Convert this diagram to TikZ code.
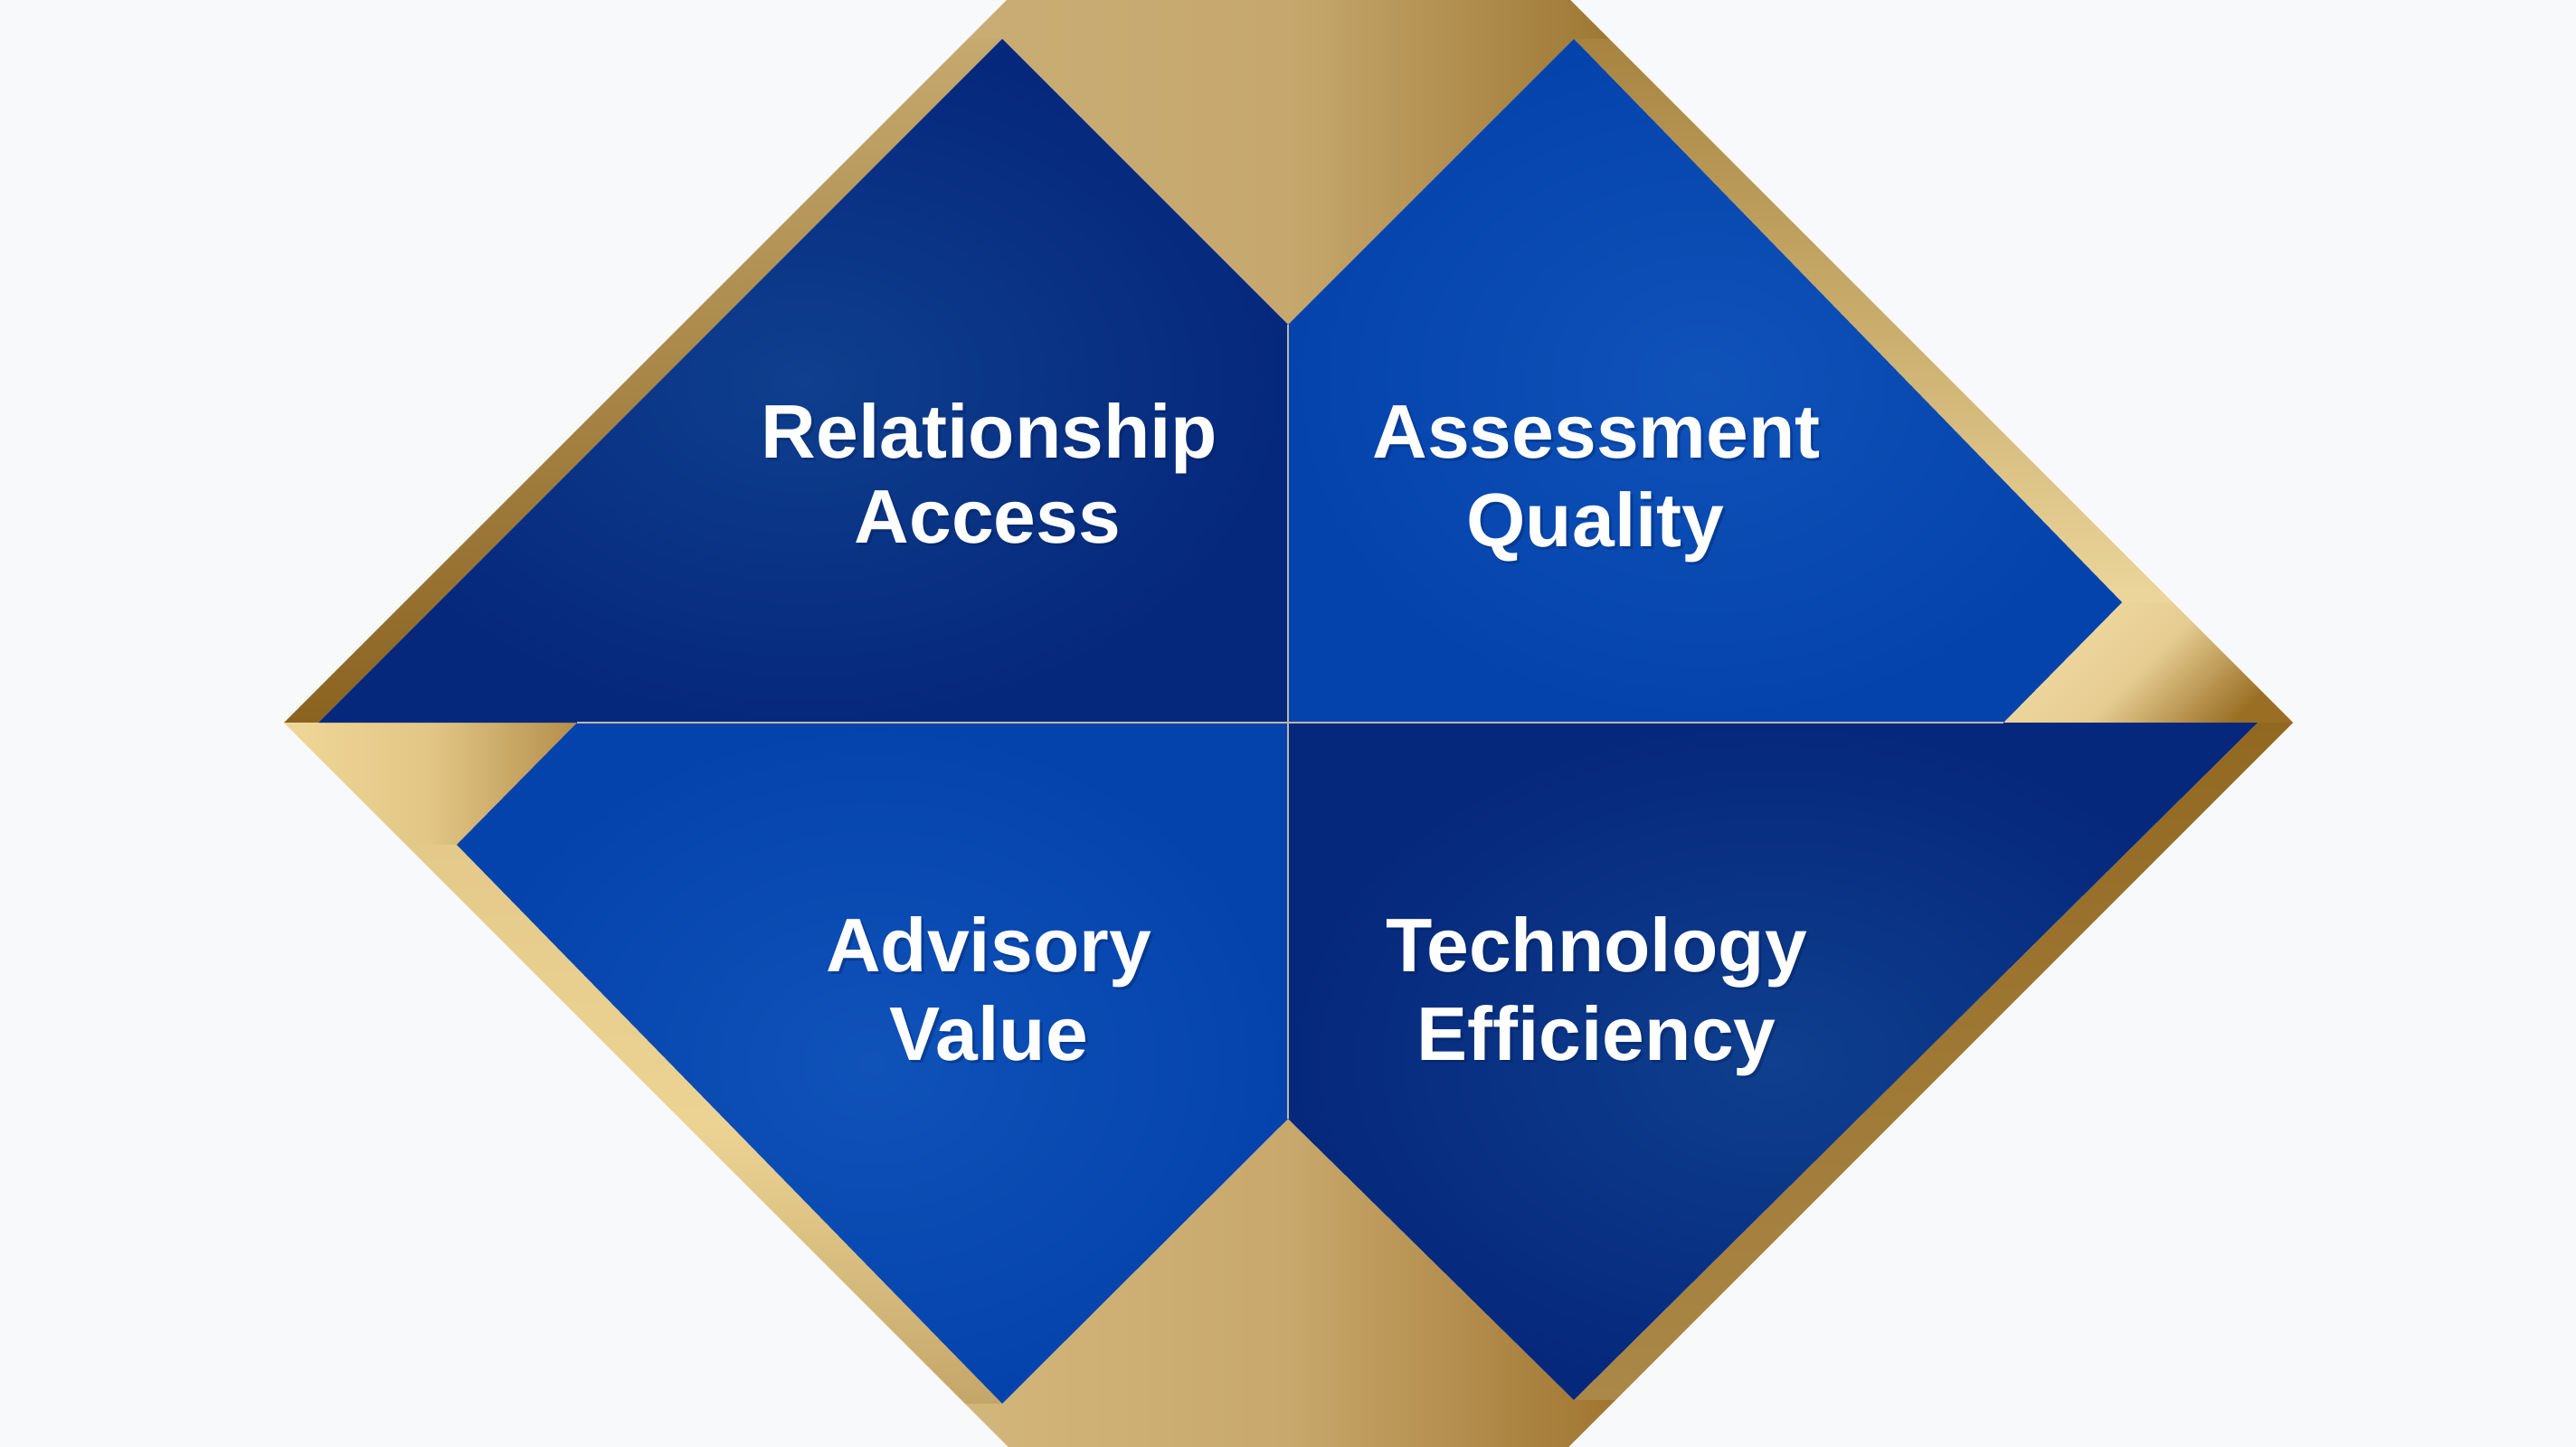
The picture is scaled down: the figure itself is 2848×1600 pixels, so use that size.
\documentclass[tikz,border=0pt]{standalone}
\usepackage{fontspec}
\setmainfont{Liberation Sans}
\definecolor{bgc}{HTML}{F8F9FA}
\definecolor{sepc}{HTML}{BDB8AA}
\definecolor{shadowc}{HTML}{021A52}
\begin{document}
\begin{tikzpicture}[x=0.01cm,y=-0.01cm,
  lab/.style={text=white, font=\fontsize{23.9pt}{26pt}\selectfont\bfseries, anchor=base, inner sep=0pt},
  labshadow/.style={text=shadowc, opacity=0.3, font=\fontsize{23.9pt}{26pt}\selectfont\bfseries, anchor=base, inner sep=0pt},
  sepline/.style={draw=sepc, line width=0.025cm},
  bluedark/.style={inner color={rgb,255:red,15;green,63;blue,142}, outer color={rgb,255:red,5;green,40;blue,124}},
  bluebright/.style={inner color={rgb,255:red,15;green,82;blue,184}, outer color={rgb,255:red,4;green,67;blue,172}}
]
\useasboundingbox (0,0) rectangle (2848,1600);
\fill[bgc] (0,0) rectangle (2848,1600);

% ---------- gold frame ----------
\begin{scope}
\clip (0,0) rectangle (2848,1600);
% upper-left strip
\shade[top color={rgb,255:red,198;green,169;blue,111}, bottom color={rgb,255:red,138;green,99;blue,32}]
  (314,799) -- (1070,43) -- (1108,43) -- (352,799) -- cycle;
% top region
\shade[left color={rgb,255:red,201;green,173;blue,116}, right color={rgb,255:red,158;green,120;blue,52}, middle color={rgb,255:red,198;green,168;blue,110}]
  (1070,43) -- (1123,-10) -- (1726,-10) -- (1779,43) -- (1740,43) -- (1424,359) -- (1108,43) -- cycle;
% upper-right strip
\shade[top color={rgb,255:red,167;green,131;blue,63}, bottom color={rgb,255:red,236;green,214;blue,155}]
  (1779,43) -- (2402,666) -- (2346,666) -- (1740,43) -- cycle;
% right wedge
\shade[top color={rgb,255:red,240;green,219;blue,162}, bottom color={rgb,255:red,154;green,111;blue,36}, middle color={rgb,255:red,230;green,204;blue,145}, shading angle=45]
  (2402,666) -- (2535,799) -- (2215,799) -- (2346,666) -- cycle;
% lower-right strip
\shade[top color={rgb,255:red,146;green,104;blue,33}, bottom color={rgb,255:red,171;green,136;blue,72}]
  (2535,799) -- (2496,799) -- (1740,1548) -- (1786,1548) -- cycle;
% bottom region
\shade[left color={rgb,255:red,211;green,182;blue,123}, right color={rgb,255:red,160;green,117;blue,48}, middle color={rgb,255:red,200;green,168;blue,108}]
  (1067,1552) -- (1108,1552) -- (1424,1237) -- (1740,1548) -- (1786,1548) -- (1724,1610) -- (1125,1610) -- cycle;
% left wedge
\shade[left color={rgb,255:red,240;green,214;blue,152}, right color={rgb,255:red,180;green,143;blue,74}, middle color={rgb,255:red,226;green,198;blue,134}]
  (314,799) -- (638,799) -- (505,934) -- (449,934) -- cycle;
% lower-left strip
\shade[top color={rgb,255:red,228;green,201;blue,138}, bottom color={rgb,255:red,197;green,166;blue,106}, middle color={rgb,255:red,236;green,211;blue,148}]
  (449,934) -- (505,934) -- (1108,1552) -- (1067,1552) -- cycle;
\end{scope}

% ---------- blue quadrants ----------
\shade[bluedark]   (1108,43) -- (352,799) -- (1424,799) -- (1424,359) -- cycle;
\shade[bluebright] (1740,43) -- (2346,666) -- (2215,799) -- (1424,799) -- (1424,359) -- cycle;
\shade[bluebright] (1108,1552) -- (505,934) -- (638,799) -- (1424,799) -- (1424,1237) -- cycle;
\shade[bluedark]   (1740,1548) -- (2496,799) -- (1424,799) -- (1424,1237) -- cycle;

% separators
\coordinate (vtop) at (1424,359);
\coordinate (vbot) at (1424,1237);
\coordinate (hl) at (638,799);
\coordinate (hr) at (2215,799);
\draw[sepline] (vtop) -- (vbot);
\draw[sepline] (hl) -- (hr);

% ---------- labels ----------
\node[labshadow] (ra1s) at (1097,509) {Relationship};
\node[labshadow] (ra2s) at (1095,603) {Access};
\node[labshadow] (aq1s) at (1768,509) {Assessment};
\node[labshadow] (aq2s) at (1767,607) {Quality};
\node[labshadow] (av1s) at (1096,1077) {Advisory};
\node[labshadow] (av2s) at (1096,1175) {Value};
\node[labshadow] (te1s) at (1768,1077) {Technology};
\node[labshadow] (te2s) at (1768,1175) {Efficiency};

\node[lab] (ra1) at (1094,506) {Relationship};
\node[lab] (ra2) at (1092,600) {Access};
\node[lab] (aq1) at (1765,506) {Assessment};
\node[lab] (aq2) at (1764,604) {Quality};
\node[lab] (av1) at (1093,1074) {Advisory};
\node[lab] (av2) at (1093,1172) {Value};
\node[lab] (te1) at (1765,1074) {Technology};
\node[lab] (te2) at (1765,1172) {Efficiency};
\end{tikzpicture}
\end{document}
